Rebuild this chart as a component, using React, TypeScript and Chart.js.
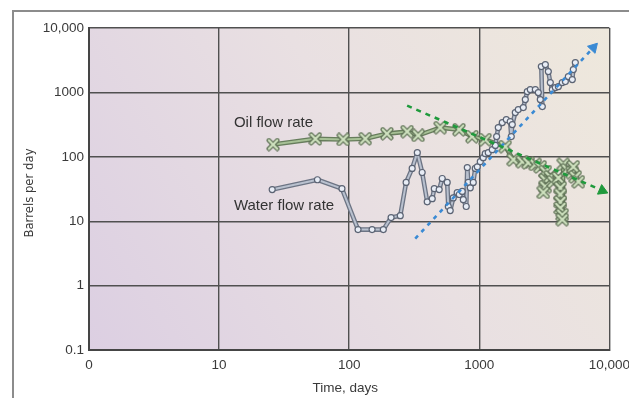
import React, { useEffect, useRef } from "react";
import { Chart, registerables } from "chart.js";
Chart.register(...registerables);

const xTickValues = [1, 10, 100, 1000, 10000];
const xTickLabels = ["0", "10", "100", "1000", "10,000"];
const yTickValues = [0.1, 1, 10, 100, 1000, 10000];
const yTickLabels = ["0.1", "1", "10", "100", "1000", "10,000"];

const xTitle = "Time, days";
const yTitle = "Barrels per day";

const oilDays = [26, 55, 90, 133, 195, 279, 339, 501, 700, 880, 1110, 1585, 1827, 2143, 2382, 2697, 2945, 3220, 3220, 3220, 3107, 3516, 3710, 4055, 4200, 4200, 4200, 4200, 4345, 4345, 4430, 4750, 5190, 5285, 5475, 5780];
const oilRate = [155, 190, 186, 191, 229, 246, 215, 284, 264, 206, 185, 144, 90, 84, 81, 76, 70, 59, 44, 34.5, 28, 49, 41, 47, 33, 26, 20, 16, 12.6, 10.6, 76, 63, 57, 70, 49, 41];

const waterDays = [25.6, 57, 88, 117, 150, 183, 210, 247, 274, 305, 334, 364, 398, 435, 451, 492, 519, 567, 578, 598, 631, 677, 702, 740, 754, 794, 809, 823, 853, 899, 932, 966, 1018, 1073, 1112, 1172, 1259, 1330, 1360, 1400, 1503, 1614, 1730, 1762, 1794, 1892, 1995, 2180, 2259, 2340, 2467, 2697, 2844, 2945, 3053, 3000, 3220, 3395, 3516, 3646, 3845, 4055, 4345, 4590, 4840, 5190, 5285, 5475];
const waterRate = [31, 44, 32, 7.4, 7.4, 7.4, 11.4, 12.2, 40, 66, 116, 57, 20, 22.4, 32, 31, 46, 40, 16.9, 14.6, 23, 27.8, 26, 29, 21.6, 16.9, 68, 40, 33, 40, 66, 70, 84, 97, 112, 116, 129, 150, 206, 284, 340, 378, 352, 206, 316, 486, 541, 581, 773, 1029, 1105, 1105, 993, 773, 602, 2516, 2702, 2104, 1420, 1105, 1188, 1232, 1420, 1472, 1759, 1581, 2259, 2904];

const oilTrendDays = [279, 8830];
const oilTrendRate = [624, 29.9];
const waterTrendDays = [322, 7530];
const waterTrendRate = [5.37, 4960];

const seriesNames = ["Oil flow rate", "Water flow rate"];
const nameDays = [13, 13];
const nameRates = [340, 17.5];

const pts = (xs: number[], ys: number[]) => xs.map((x, i) => ({ x, y: ys[i] }));

function makeCross(): HTMLCanvasElement {
  const c = document.createElement("canvas");
  c.width = 14;
  c.height = 14;
  const g = c.getContext("2d")!;
  g.lineCap = "round";
  const draw = (w: number, col: string) => {
    g.strokeStyle = col;
    g.lineWidth = w;
    g.beginPath();
    g.moveTo(2.8, 2.8);
    g.lineTo(11.2, 11.2);
    g.moveTo(11.2, 2.8);
    g.lineTo(2.8, 11.2);
    g.stroke();
  };
  draw(4.6, "#5b6e52");
  draw(2.3, "#cfe2bf");
  return c;
}

const arrowRotation = (ctx: any) => {
  const chart = ctx.chart;
  const ds = chart.data.datasets[ctx.datasetIndex].data as { x: number; y: number }[];
  if (ctx.dataIndex !== ds.length - 1) return 0;
  const xs = chart.scales.x;
  const ys = chart.scales.y;
  const a = ds[0];
  const b = ds[ds.length - 1];
  const dx = xs.getPixelForValue(b.x) - xs.getPixelForValue(a.x);
  const dy = ys.getPixelForValue(b.y) - ys.getPixelForValue(a.y);
  return (Math.atan2(dx, -dy) * 180) / Math.PI;
};

const bgPlugin = {
  id: "bg",
  beforeDraw(chart: any) {
    const { ctx, chartArea: a } = chart;
    const g = ctx.createLinearGradient(a.left, a.bottom, a.right, a.top);
    g.addColorStop(0, "#dccfe2");
    g.addColorStop(0.55, "#e9e0e2");
    g.addColorStop(1, "#eee8dc");
    ctx.save();
    ctx.fillStyle = g;
    ctx.fillRect(a.left, a.top, a.width, a.height);
    ctx.restore();
  },
};

const textPlugin = {
  id: "texts",
  afterDraw(chart: any) {
    const { ctx, chartArea: a, scales } = chart;
    ctx.save();
    ctx.fillStyle = "#333333";
    ctx.font = "15px 'Liberation Sans', Arial, sans-serif";
    ctx.textAlign = "left";
    ctx.textBaseline = "middle";
    seriesNames.forEach((n, i) => {
      ctx.fillText(n, scales.x.getPixelForValue(nameDays[i]), scales.y.getPixelForValue(nameRates[i]));
    });
    ctx.fillStyle = "#3a3a3a";
    ctx.font = "13.5px 'Liberation Sans', Arial, sans-serif";
    ctx.textAlign = "center";
    ctx.textBaseline = "middle";
    ctx.fillText(xTitle, (a.left + a.right) / 2 - 4, 388);
    ctx.translate(30, (a.top + a.bottom) / 2 + 4);
    ctx.rotate(-Math.PI / 2);
    ctx.font = "13px 'Liberation Sans Narrow', 'DejaVu Sans Condensed', sans-serif";
    ctx.fillText(yTitle, 0, 0);
    ctx.restore();
  },
};

export default function App() {
  const ref = useRef<HTMLCanvasElement>(null);
  useEffect(() => {
    const cross = makeCross();
    const chart = new Chart(ref.current!, {
      type: "scatter",
      data: {
        datasets: [
          {
            data: pts(oilTrendDays, oilTrendRate),
            showLine: true,
            borderColor: "#1f9a3c",
            backgroundColor: "#1f9a3c",
            borderWidth: 2.6,
            borderDash: [5, 5],
            pointStyle: "triangle",
            pointRadius: [0, 6],
            pointRotation: arrowRotation,
            pointBorderWidth: 1,
            order: 0,
          },
          {
            data: pts(waterTrendDays, waterTrendRate),
            showLine: true,
            borderColor: "#3a8ad4",
            backgroundColor: "#3a8ad4",
            borderWidth: 2.6,
            borderDash: [4, 5],
            pointStyle: "triangle",
            pointRadius: [0, 6],
            pointRotation: arrowRotation,
            pointBorderWidth: 1,
            order: 1,
          },
          {
            data: pts(waterDays, waterRate),
            showLine: true,
            borderColor: "#b9c1cf",
            borderWidth: 2,
            borderJoinStyle: "round",
            pointStyle: "circle",
            pointRadius: 3,
            pointBackgroundColor: "#e8edf6",
            pointBorderColor: "#5b6373",
            pointBorderWidth: 1.2,
            order: 2,
          },
          {
            data: pts(waterDays, waterRate),
            showLine: true,
            borderColor: "#6c7484",
            borderWidth: 4.6,
            borderJoinStyle: "round",
            pointRadius: 0,
            order: 3,
          },
          {
            data: pts(oilDays, oilRate),
            showLine: true,
            borderColor: "#a7c196",
            borderWidth: 2,
            borderJoinStyle: "round",
            pointStyle: cross as any,
            pointRadius: 6,
            order: 4,
          },
          {
            data: pts(oilDays, oilRate),
            showLine: true,
            borderColor: "#677d5c",
            borderWidth: 4.6,
            borderJoinStyle: "round",
            pointRadius: 0,
            order: 5,
          },
        ],
      },
      options: {
        animation: false,
        responsive: false,
        maintainAspectRatio: false,
        layout: { padding: { top: 28, right: 20, left: 0, bottom: 0 } },
        plugins: { legend: { display: false }, tooltip: { enabled: false } },
        scales: {
          x: {
            type: "logarithmic",
            min: 1,
            max: 10000,
            afterBuildTicks: (s: any) => {
              s.ticks = xTickValues.map((v) => ({ value: v }));
            },
            afterFit: (s: any) => {
              s.height = 48;
            },
            ticks: {
              autoSkip: false,
              maxRotation: 0,
              padding: 7,
              color: "#3a3a3a",
              font: { family: "'Liberation Sans', Arial, sans-serif", size: 13.5 },
              callback: (_v: any, i: number) => xTickLabels[i],
            },
            grid: { color: "#505050", lineWidth: 1.4, drawTicks: false },
            border: { color: "#454545", width: 2 },
          },
          y: {
            type: "logarithmic",
            min: 0.1,
            max: 10000,
            afterBuildTicks: (s: any) => {
              s.ticks = yTickValues.map((v) => ({ value: v }));
            },
            afterFit: (s: any) => {
              s.width = 89;
            },
            ticks: {
              autoSkip: false,
              padding: 5,
              color: "#3a3a3a",
              font: { family: "'Liberation Sans', Arial, sans-serif", size: 13.5 },
              callback: (_v: any, i: number) => yTickLabels[i],
            },
            grid: { color: "#505050", lineWidth: 1.4, drawTicks: false },
            border: { color: "#454545", width: 2 },
          },
        },
      },
      plugins: [bgPlugin, textPlugin],
    });
    return () => chart.destroy();
  }, []);
  return (
    <div style={{ position: "fixed", left: 0, top: 0, width: 629, height: 398, background: "#fff", overflow: "hidden" }}>
      <div
        style={{
          position: "absolute",
          left: 12,
          top: 10,
          width: 700,
          height: 500,
          borderTop: "2px solid #8c8c8c",
          borderLeft: "2px solid #8c8c8c",
        }}
      />
      <canvas ref={ref} width={637} height={398} style={{ position: "absolute", left: 0, top: 0 }} />
    </div>
  );
}
